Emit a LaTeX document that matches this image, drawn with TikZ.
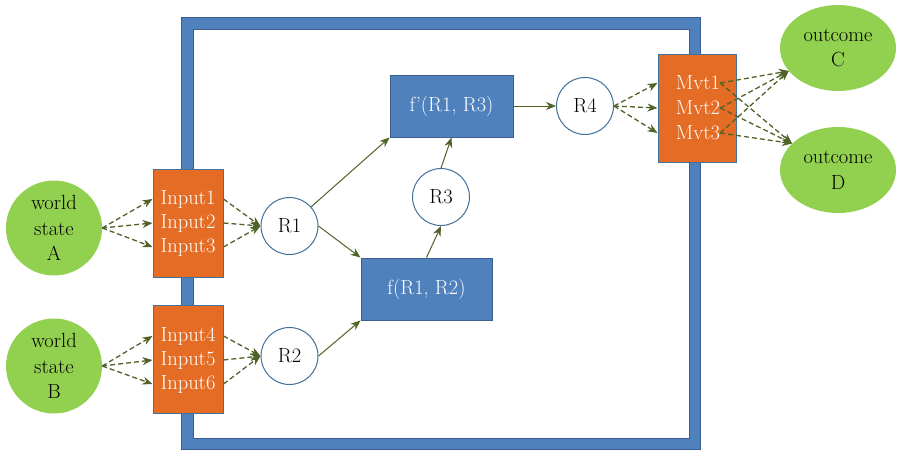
\documentclass[tikz,border=0pt]{standalone}
\usepackage{fontspec}
\usetikzlibrary{arrows.meta,shapes.geometric}

\definecolor{azulmarco}{HTML}{4F81BD}
\definecolor{bordemarco}{HTML}{3A5F8E}
\definecolor{naranja}{HTML}{E46C24}
\definecolor{verde}{HTML}{92D050}
\definecolor{oliva}{HTML}{4F6228}
\definecolor{bordeazul}{HTML}{41719C}

\tikzset{
  caja/.style={draw=bordeazul, fill=naranja, line width=1pt, minimum width=70pt, minimum height=108pt},
  linea/.style={text=white, inner sep=0pt},
  funcion/.style={draw=bordemarco, fill=azulmarco, line width=1pt, text=white, minimum height=62pt},
  estado/.style={circle, draw=bordeazul, fill=white, line width=1pt, minimum size=57pt, inner sep=0pt},
  mundo/.style={ellipse, fill=verde, minimum width=96pt, minimum height=95pt},
  resultado/.style={ellipse, fill=verde, minimum width=116pt, minimum height=86pt},
  texto/.style={align=center, inner sep=0pt},
  flecha/.style={oliva, line width=1pt, -{Stealth[length=10pt,width=8pt]}},
  punteada/.style={flecha, line width=1.3pt, dash pattern=on 5pt off 3pt}
}

\begin{document}
\begin{tikzpicture}[x=1pt, y=-1pt, font=\fontsize{20.5}{25.5}\selectfont]
	\useasboundingbox (0,0) rectangle (901,450);
	
	% Marco azul
	\filldraw[fill=azulmarco, draw=bordemarco, line width=0.8pt, even odd rule]
		(181,17) rectangle (700,449) (193,29) rectangle (689,438);
	
	% Estados del mundo y resultados
	\node[mundo, label={[texto]center:world\\state\\A}] (A) at (54,228) {};
	\node[mundo, label={[texto]center:world\\state\\B}] (B) at (54,366) {};
	\node[resultado, label={[texto]center:outcome\\C}] (C) at (838,48) {};
	\node[resultado, label={[texto]center:outcome\\D}] (D) at (838,170) {};
	
	% Cajas de entrada y de movimiento
	\node[caja] (E1) at (188,223) {};
	\node[caja] (E2) at (188,359.5) {};
	\node[caja, minimum width=78pt] (M) at (697,108) {};
	\foreach \i/\y in {1/199, 2/223, 3/247, 4/336, 5/360, 6/384} {
		\node[linea] (in\i) at (188,\y) {Input\i};
	}
	\foreach \i/\y in {1/83, 2/108, 3/133} {
		\node[linea] (mvt\i) at (698,\y) {Mvt\i};
	}
	
	% Estados internos y funciones
	\node[estado] (R1) at (289.5,226) {R1};
	\node[estado] (R2) at (289.5,356) {R2};
	\node[estado] (R3) at (441,197) {R3};
	\node[estado] (R4) at (585,106) {R4};
	\node[funcion, minimum width=131pt] (F) at (426.5,289) {f(R1, R2)};
	\node[funcion, minimum width=123pt] (Fp) at (451.5,106) {f’(R1, R3)};
	
	% Flechas punteadas
	\foreach \i in {1,2,3} {
		\draw[punteada] (A.east) -- (E1.west |- in\i);
		\draw[punteada] (E1.east |- in\i) -- (R1.west);
		\draw[punteada] (R4.east) -- (M.west |- mvt\i);
		\draw[punteada] (mvt\i.east) -- (C.205);
		\draw[punteada] (mvt\i.east) -- (D.150);
	}
	\foreach \i in {4,5,6} {
		\draw[punteada] (B.east) -- (E2.west |- in\i);
		\draw[punteada] (E2.east |- in\i) -- (R2.west);
	}
	
	% Flechas solidas
	\draw[flecha] (R1) -- (Fp.south west);
	\draw[flecha] (R1.east) -- (F.north west);
	\draw[flecha] (R2.east) -- (F.south west);
	\draw[flecha] (F.north) -- (R3.south);
	\draw[flecha] (R3.north) -- (Fp.south);
	\draw[flecha] (Fp.east) -- (R4.west);
\end{tikzpicture}
\end{document}
